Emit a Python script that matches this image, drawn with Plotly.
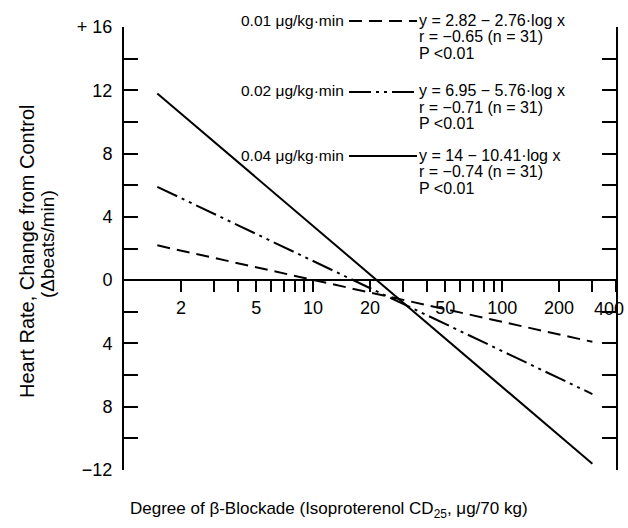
import plotly.graph_objects as go

# ---- data ----
dose_labels = ["0.01 μg/kg·min", "0.02 μg/kg·min", "0.04 μg/kg·min"]
equations = ["y = 2.82 − 2.76·log x", "y = 6.95 − 5.76·log x", "y = 14 − 10.41·log x"]
r_texts = ["r = −0.65 (n = 31)", "r = −0.71 (n = 31)", "r = −0.74 (n = 31)"]
p_texts = ["P <0.01", "P <0.01", "P <0.01"]

x_line = [1.5, 300]
y_001 = [2.2, -3.9]
y_002 = [5.9, -7.2]
y_004 = [11.8, -11.6]

ytick_vals = [-12, -10, -8, -6, -4, -2, 0, 2, 4, 6, 8, 10, 12, 14, 16]
ytick_text = ["−12", "", "8", "", "4", "", "0", "", "4", "", "8", "", "12", "", "+ 16"]
xtick_vals = [2, 3, 4, 5, 6, 7, 8, 9, 10, 20, 30, 40, 50, 60, 70, 80, 90, 100, 200, 300, 400]
xtick_text = ["2", "", "", "5", "", "", "", "", "10", "20", "", "", "50", "", "", "", "", "100", "200", "", "400"]

# ---- layout geometry ----
W, H = 628, 528
L, R, T, B = 124, 12, 27, 58
PW, PH = W - L - R, H - T - B

def px(x):
    return (x - L) / PW

def py(y):
    return (H - B - y) / PH

FONT = "Liberation Sans, Arial, Helvetica, sans-serif"
DASH1 = "13px,7px"
DASH2 = "22px,5px,3px,5px,3px,5px"

fig = go.Figure()
series = [(y_001, DASH1), (y_002, DASH2), (y_004, "solid")]
for ys, dash in series:
    fig.add_trace(go.Scatter(x=x_line, y=ys, mode="lines",
                             line=dict(color="black", width=2, dash=dash),
                             showlegend=False, hoverinfo="skip"))

annotations = []
shapes = []
group_y = [20, 91, 155]
dashes = [DASH1, DASH2, "solid"]
for i in range(3):
    gy = group_y[i]
    annotations.append(dict(x=px(346), y=py(gy), xref="paper", yref="paper",
                            text=dose_labels[i], showarrow=False,
                            xanchor="right", yanchor="middle",
                            font=dict(size=15.5, family=FONT, color="black")))
    for j, t in enumerate([equations[i], r_texts[i], p_texts[i]]):
        annotations.append(dict(x=px(417), y=py(gy + 16.5 * j), xref="paper", yref="paper",
                                text=t, showarrow=False,
                                xanchor="left", yanchor="middle",
                                font=dict(size=16, family=FONT, color="black")))
    shapes.append(dict(type="line", xref="paper", yref="paper",
                       x0=px(349), x1=px(417), y0=py(gy + 1), y1=py(gy + 1),
                       line=dict(color="black", width=2, dash=dashes[i])))

# last x tick label placed slightly inside the right edge, as in the original
last_label = xtick_text[-1]
tick_text_axis = xtick_text[:-1] + [""]
annotations.append(dict(x=2.60206, y=0, xref="x", yref="y",
                        text=last_label, showarrow=False,
                        xanchor="center", yanchor="top", xshift=-7, yshift=-17,
                        font=dict(size=18, family=FONT, color="black")))

# y-axis title (two lines)
annotations.append(dict(x=px(27), y=py(252), xref="paper", yref="paper",
                        text="Heart Rate, Change from Control", textangle=-90,
                        showarrow=False, xanchor="center", yanchor="middle",
                        font=dict(size=20, family=FONT, color="black")))
annotations.append(dict(x=px(47), y=py(244), xref="paper", yref="paper",
                        text="(Δbeats/min)", textangle=-90,
                        showarrow=False, xanchor="center", yanchor="middle",
                        font=dict(size=19, family=FONT, color="black")))
# x-axis title
annotations.append(dict(x=px(329), y=py(510), xref="paper", yref="paper",
                        text="Degree of β-Blockade (Isoproterenol CD<sub>25</sub>, μg/70 kg)",
                        showarrow=False, xanchor="center", yanchor="middle",
                        font=dict(size=17, family=FONT, color="black")))

fig.update_layout(
    width=W, height=H,
    margin=dict(l=L, r=R, t=T, b=B, pad=0),
    paper_bgcolor="white", plot_bgcolor="white",
    font=dict(family=FONT, color="black"),
    annotations=annotations, shapes=shapes,
    xaxis=dict(type="log", range=[0, 2.60206], anchor="free", position=12 / 28,
               showline=True, linecolor="black", linewidth=2,
               ticks="outside", ticklen=11, tickwidth=1.5, tickcolor="black",
               tickvals=xtick_vals, ticktext=tick_text_axis,
               tickfont=dict(size=18, family=FONT, color="black"),
               showgrid=False, zeroline=False, automargin=False),
    yaxis=dict(range=[-12, 16], showline=True, linecolor="black", linewidth=2,
               mirror="ticks", ticks="inside", ticklen=14, tickwidth=2, tickcolor="black",
               tickvals=ytick_vals, ticktext=ytick_text, ticklabelstandoff=6,
               tickfont=dict(size=18, family=FONT, color="black"),
               showgrid=False, zeroline=False, automargin=False),
)

fig.write_html("out.html", config={"displayModeBar": False},
               post_script="document.body.style.margin='0';")
